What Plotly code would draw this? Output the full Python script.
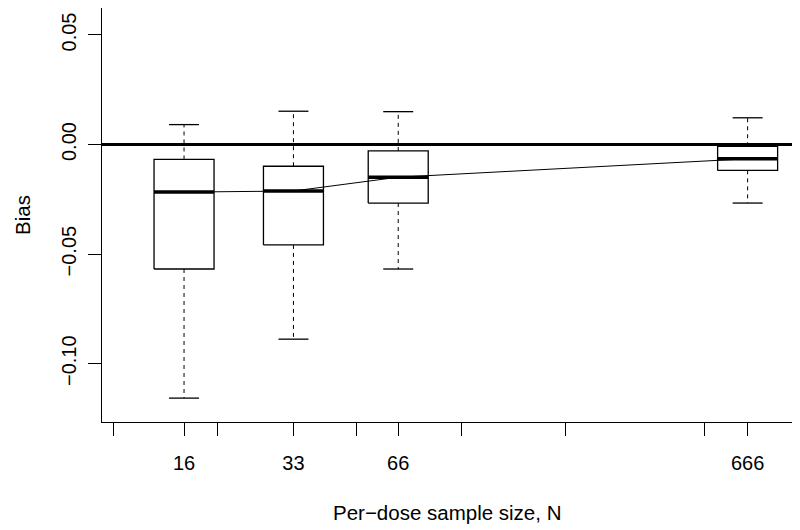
import plotly.graph_objects as go

# Data
sample_sizes = [16, 33, 66, 666]
upper_whisker = [0.0091, 0.0152, 0.0150, 0.0122]
q3 = [-0.0068, -0.0099, -0.0029, -0.0008]
median = [-0.0217, -0.0212, -0.0149, -0.0065]
q1 = [-0.0568, -0.0458, -0.0267, -0.0118]
lower_whisker = [-0.1157, -0.0888, -0.0568, -0.0267]

x_tickvals = [10, 16, 20, 33, 50, 66, 100, 200, 500, 666]
x_ticktext = ["", "16", "", "33", "", "66", "", "", "", "666"]
y_tickvals = [0.05, 0.0, -0.05, -0.10]
y_ticktext = ["0.05", "0.00", "\u22120.05", "\u22120.10"]

BOX_HALF = 10 ** 0.0862   # multiplicative half-width on log axis
CAP_HALF = 10 ** 0.0431

fig = go.Figure()

# line through medians
fig.add_trace(go.Scatter(x=sample_sizes, y=median, mode="lines",
                         line=dict(color="black", width=1), hoverinfo="skip"))

for n, uw, hi, md, lo, lw in zip(sample_sizes, upper_whisker, q3, median, q1, lower_whisker):
    xl, xr = n / BOX_HALF, n * BOX_HALF
    cl, cr = n / CAP_HALF, n * CAP_HALF
    # dashed whiskers
    fig.add_trace(go.Scatter(x=[n, n, None, n, n], y=[hi, uw, None, lo, lw], mode="lines",
                             line=dict(color="black", width=1, dash="4px,4px"), hoverinfo="skip"))
    # caps
    fig.add_trace(go.Scatter(x=[cl, cr, None, cl, cr], y=[uw, uw, None, lw, lw], mode="lines",
                             line=dict(color="black", width=1.3), hoverinfo="skip"))
    # box
    fig.add_trace(go.Scatter(x=[xl, xr, xr, xl, xl], y=[lo, lo, hi, hi, lo], mode="lines",
                             line=dict(color="black", width=1.3), hoverinfo="skip"))
    # median
    fig.add_trace(go.Scatter(x=[xl, xr], y=[md, md], mode="lines",
                             line=dict(color="black", width=3.5), hoverinfo="skip"))

font_family = "Liberation Sans, Arial, Helvetica, sans-serif"

fig.update_layout(
    width=792, height=522,
    margin=dict(l=94, r=8, t=0, b=108),
    paper_bgcolor="white", plot_bgcolor="white",
    showlegend=False,
    font=dict(family=font_family, size=20, color="black"),
    xaxis=dict(type="log", range=[0.9684, 2.951], automargin=False,
               tickvals=x_tickvals, ticktext=x_ticktext,
               ticks="outside", ticklen=13, tickwidth=1.2, tickcolor="black",
               showline=True, linecolor="black", linewidth=1.3, mirror=True,
               showgrid=False, zeroline=False, ticklabelstandoff=10),
    yaxis=dict(range=[-0.1266, 0.0623], automargin=False,
               tickvals=y_tickvals, ticktext=y_ticktext, tickangle=-90,
               ticks="outside", ticklen=13, tickwidth=1.2, tickcolor="black",
               showline=True, linecolor="black", linewidth=1.3, mirror=True,
               showgrid=False, zeroline=True, zerolinecolor="black", zerolinewidth=2.5,
               ticklabelstandoff=4),
    annotations=[
        dict(text="Per\u2212dose sample size, N", xref="paper", yref="paper",
             x=0.5, y=0, yshift=-90, showarrow=False, xanchor="center", yanchor="middle",
             font=dict(size=20.5)),
        dict(text="Bias", xref="paper", yref="paper", x=0, y=0.5, xshift=-80,
             showarrow=False, textangle=-90, xanchor="center", yanchor="middle",
             font=dict(size=20.5)),
    ],
)

fig.write_html("out.html")
